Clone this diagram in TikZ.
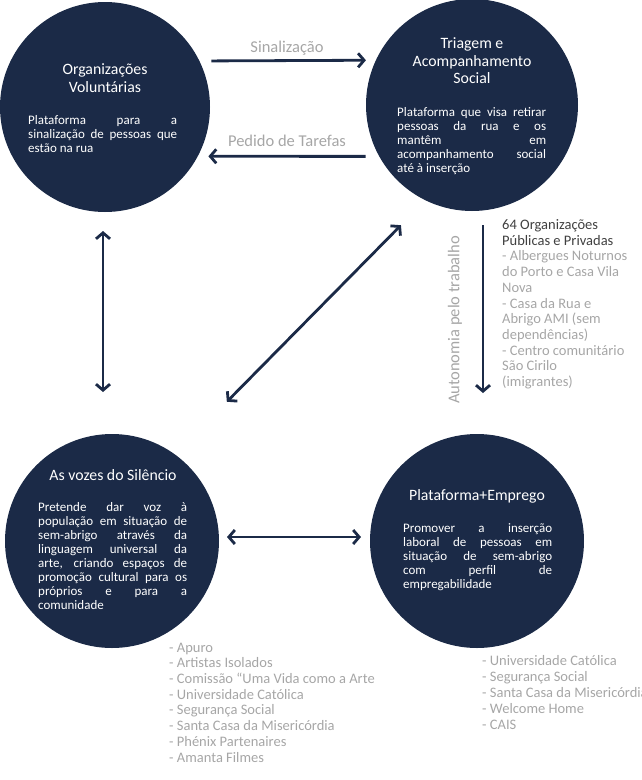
\documentclass[tikz,border=0pt]{standalone}
\usepackage{fontspec}
\setmainfont{Carlito}
\usetikzlibrary{arrows.meta}

\definecolor{azul}{HTML}{1B2A47}
\definecolor{cinza}{HTML}{A6A6A6}
\definecolor{cinzaescuro}{HTML}{404040}
\newcommand{\lj}[1]{\makebox[149pt][s]{#1}} % linha justificada

\begin{document}
\begin{tikzpicture}[x=1pt, y=-1pt, % 1 unidade = 1 pixel, y para baixo
    circulo/.style={circle, fill=azul, inner sep=0pt, outer sep=0pt},
    titulo/.style={text=white, align=center, anchor=base, font=\fontsize{15.8}{17.5}\selectfont},
    corpo/.style={text=white, align=left, anchor=base west, inner sep=0pt, font=\fontsize{13}{14}\selectfont},
    seta/.style={draw=azul, line width=2.8pt, -{Straight Barb[length=6pt, width=14pt]}},
    setadupla/.style={seta, {Straight Barb[length=6pt, width=14pt]}-{Straight Barb[length=6pt, width=14pt]}},
    etiqueta/.style={text=cinza, font=\fontsize{16.5}{18}\selectfont},
    lista/.style={text=cinza, align=left, anchor=base west, inner sep=0pt, font=\fontsize{14.5}{15.7}\selectfont}]

    \useasboundingbox (0,0) rectangle (642,780);

    % Círculos
    \node[circulo, minimum size=210pt] (org) at (105,107) {};
    \node[circulo, minimum size=212pt] (triagem) at (472,105) {};
    \node[circulo, minimum size=214pt] (vozes) at (112,541) {};
    \node[circulo, minimum size=214pt] (emprego) at (477,541) {};

    % Textos dos círculos (posição = linha de base da última linha)
    \node[titulo] (orgtit) at (105,92) {Organizações\\Voluntárias};
    \node[corpo] (orgtxt) at (28,152.5) {\lj{Plataforma para a}\\\lj{sinalização de pessoas que}\\estão na rua};

    \node[titulo] (triagemtit) at (472,83.5) {Triagem e\\Acompanhamento\\Social};
    \node[corpo] (triagemtxt) at (397,172.5) {\lj{Plataforma que visa retirar}\\\lj{pessoas da rua e os}\\\lj{mantêm em}\\\lj{acompanhamento social}\\até à inserção};

    \node[titulo] (vozestit) at (113,480.5) {As vozes do Silêncio};
    \node[corpo] (vozestxt) at (38,609.5) {\lj{Pretende dar voz à}\\\lj{população em situação de}\\\lj{sem-abrigo através da}\\\lj{linguagem universal da}\\\lj{arte, criando espaços de}\\\lj{promoção cultural para os}\\\lj{próprios e para a}\\comunidade};

    \node[titulo] (empregotit) at (477,500.5) {Plataforma+Emprego};
    \node[corpo] (empregotxt) at (403,588.5) {\lj{Promover a inserção}\\\lj{laboral de pessoas em}\\\lj{situação de sem-abrigo}\\\lj{com perfil de}\\empregabilidade};

    % Setas
    \draw[seta, shorten <=12pt, shorten >=10pt] (org.26) -- (triagem.155.5);
    \draw[seta, shorten <=13.6pt, shorten >=10.7pt] (triagem.209.4) -- (org.-28.4);
    \draw[setadupla, shorten <=19pt, shorten >=42pt] ([xshift=-2pt]org.south) -- ([xshift=-9pt]vozes.north);
    \draw[setadupla, shorten <=35pt, shorten >=74pt] (triagem.244.1) -- (vozes.54.9);
    \draw[seta, shorten <=14pt, shorten >=41pt] ([xshift=11pt]triagem.south) -- ([xshift=6pt]emprego.north);
    \draw[setadupla, shorten <=8pt, shorten >=9pt] ([yshift=4pt]vozes.east) -- ([yshift=4pt]emprego.west);

    % Etiquetas
    \node[etiqueta] (sinal) at (287,48) {Sinalização};
    \node[etiqueta] (pedido) at (287,141) {Pedido de Tarefas};
    \node[etiqueta, rotate=90] (autonomia) at (455,320) {Autonomia pelo trabalho};

    % Listas de parceiros
    \node[lista] (parceiros) at (502,386.5) {\textcolor{cinzaescuro}{64 Organizações}\\\textcolor{cinzaescuro}{Públicas e Privadas}\\- Albergues Noturnos\\do Porto e Casa Vila\\Nova\\- Casa da Rua e\\Abrigo AMI (sem\\dependências)\\- Centro comunitário\\São Cirilo\\(imigrantes)};
    \node[lista] (vozeslista) at (169,762) {- Apuro\\- Artistas Isolados\\- Comissão “Uma Vida como a Arte\\- Universidade Católica\\- Segurança Social\\- Santa Casa da Misericórdia\\- Phénix Partenaires\\- Amanta Filmes};
    \node[lista, font=\fontsize{14.5}{16}\selectfont] (empregolista) at (482,729) {- Universidade Católica\\- Segurança Social\\- Santa Casa da Misericórdia\\- Welcome Home\\- CAIS};
\end{tikzpicture}
\end{document}
